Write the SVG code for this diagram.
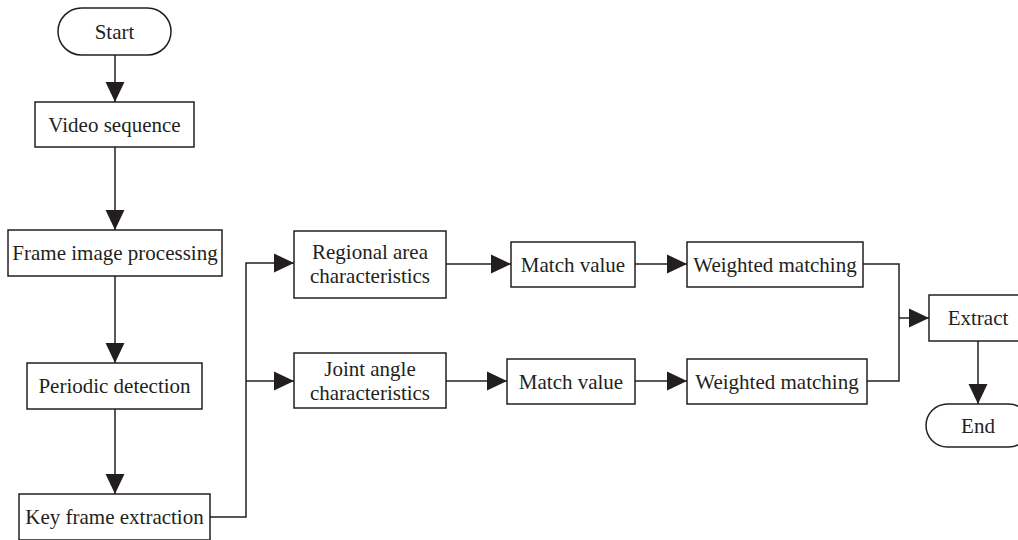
<svg xmlns="http://www.w3.org/2000/svg" width="1018" height="540" viewBox="0 0 1018 540">
<style>
.box{fill:#fff;stroke:#231f20;stroke-width:1.5}
.ln{fill:none;stroke:#231f20;stroke-width:1.5}
text{font-family:"Liberation Serif","Times New Roman",serif;font-size:21px;fill:#231f20;text-anchor:middle}
</style>
<defs>
<marker id="ah" markerUnits="userSpaceOnUse" markerWidth="20" markerHeight="20" viewBox="0 0 19 18" refX="19" refY="9" orient="auto">
<path d="M0,0 L19,9 L0,18 Z" fill="#231f20"/>
</marker>
</defs>
<g id="connectors">
<path class="ln" d="M115,55 V102" marker-end="url(#ah)"/>
<path class="ln" d="M115,147 V230" marker-end="url(#ah)"/>
<path class="ln" d="M115,276 V363" marker-end="url(#ah)"/>
<path class="ln" d="M115,409 V494" marker-end="url(#ah)"/>
<path class="ln" d="M210,517 H246 V263 H294" marker-end="url(#ah)"/>
<path class="ln" d="M246,381 H294" marker-end="url(#ah)"/>
<path class="ln" d="M446,264 H511" marker-end="url(#ah)"/>
<path class="ln" d="M446,381 H507" marker-end="url(#ah)"/>
<path class="ln" d="M635,264 H687" marker-end="url(#ah)"/>
<path class="ln" d="M635,381 H687" marker-end="url(#ah)"/>
<path class="ln" d="M863,264 H899 V381 H867"/>
<path class="ln" d="M899,318 H929" marker-end="url(#ah)"/>
<path class="ln" d="M978,341 V404" marker-end="url(#ah)"/>
</g>
<g id="start"><rect class="box" x="58" y="8" width="113" height="47" rx="23.5"/><text x="114.5" y="39">Start</text></g>
<g id="video"><rect class="box" x="35" y="102" width="159" height="45"/><text x="114.5" y="132">Video sequence</text></g>
<g id="frame"><rect class="box" x="8" y="230" width="214" height="46"/><text x="115" y="260">Frame image processing</text></g>
<g id="periodic"><rect class="box" x="27" y="363" width="175" height="46"/><text x="114.5" y="393">Periodic detection</text></g>
<g id="keyframe"><rect class="box" x="19" y="494" width="191" height="46"/><text x="114.5" y="524">Key frame extraction</text></g>
<g id="regional"><rect class="box" x="294" y="231" width="152" height="67"/><text x="370" y="259">Regional area</text><text x="370" y="283">characteristics</text></g>
<g id="joint"><rect class="box" x="294" y="353" width="152" height="55"/><text x="370" y="376">Joint angle</text><text x="370" y="400">characteristics</text></g>
<g id="match1"><rect class="box" x="511" y="242" width="124" height="45"/><text x="573" y="272">Match value</text></g>
<g id="match2"><rect class="box" x="507" y="359" width="128" height="45"/><text x="571" y="389">Match value</text></g>
<g id="weighted1"><rect class="box" x="687" y="242" width="176" height="45"/><text x="775" y="272">Weighted matching</text></g>
<g id="weighted2"><rect class="box" x="687" y="359" width="180" height="45"/><text x="777" y="389">Weighted matching</text></g>
<g id="extract"><rect class="box" x="929" y="295" width="98" height="46"/><text x="978" y="325">Extract</text></g>
<g id="end"><rect class="box" x="926" y="404" width="104" height="43" rx="21.5"/><text x="978" y="433">End</text></g>
</svg>
